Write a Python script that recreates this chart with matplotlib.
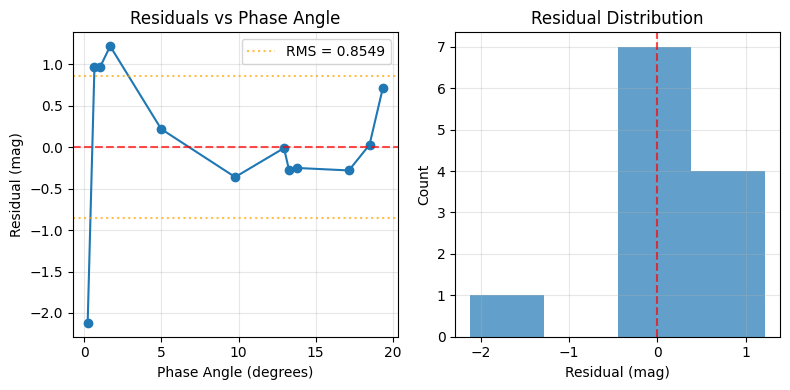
import numpy as np
import matplotlib.pyplot as plt

# data
phase_angle = [0.21, 0.65, 1.02, 1.67, 4.98, 9.78, 12.95, 13.27, 13.79, 17.16, 18.5, 19.37]
residuals = [-2.12, 0.97, 0.97, 1.22, 0.22, -0.36, -0.01, -0.27, -0.25, -0.28, 0.03, 0.72]
rms = 0.8549

fig, (ax1, ax2) = plt.subplots(1, 2, figsize=(8, 4), dpi=100)

# residuals vs phase angle
ax1.plot(phase_angle, residuals, 'o-')
ax1.axhline(0, color='red', linestyle='--', alpha=0.7)
ax1.axhline(rms, color='orange', linestyle=':', alpha=0.7, label='RMS = {:.4f}'.format(rms))
ax1.axhline(-rms, color='orange', linestyle=':', alpha=0.7)
ax1.set_xlabel('Phase Angle (degrees)')
ax1.set_ylabel('Residual (mag)')
ax1.set_title('Residuals vs Phase Angle')
ax1.legend()
ax1.grid(True, alpha=0.3)

# histogram
ax2.hist(residuals, bins=4, alpha=0.7)
ax2.axvline(0, color='red', linestyle='--', alpha=0.7)
ax2.set_xlabel('Residual (mag)')
ax2.set_ylabel('Count')
ax2.set_title('Residual Distribution')
ax2.grid(True, alpha=0.3)

plt.tight_layout()
fig.savefig('out.png', bbox_inches='tight')
